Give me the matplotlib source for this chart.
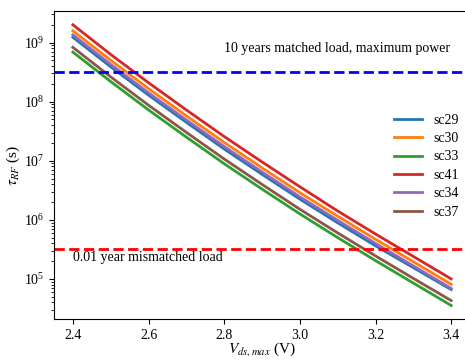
import matplotlib
matplotlib.use("Agg")
import matplotlib.pyplot as plt

plt.rcParams["font.family"] = ["Liberation Serif", "DejaVu Serif"]
plt.rcParams["mathtext.fontset"] = "stix"

# Vds,max (V)
vds = [2.4, 2.5, 2.6, 2.7, 2.8, 2.9, 3.0, 3.1, 3.2, 3.3, 3.4]

# tau_RF (s) per device
sc29 = [1.23e9, 3.89e8, 1.29e8, 4.47e7, 1.58e7, 5.89e6, 2.24e6, 8.9e5, 3.63e5, 1.55e5, 6.6e4]
sc30 = [1.58e9, 5.01e8, 1.66e8, 5.75e7, 2.04e7, 7.59e6, 2.88e6, 1.15e6, 4.68e5, 1.95e5, 8.1e4]
sc33 = [6.9e8, 2.19e8, 7.24e7, 2.51e7, 8.9e6, 3.31e6, 1.26e6, 5.0e5, 2.04e5, 8.5e4, 3.55e4]
sc41 = [2.0e9, 6.3e8, 2.09e8, 7.24e7, 2.57e7, 9.55e6, 3.63e6, 1.41e6, 5.75e5, 2.40e5, 1.0e5]
sc34 = [1.35e9, 4.27e8, 1.41e8, 4.9e7, 1.74e7, 6.46e6, 2.45e6, 9.8e5, 3.98e5, 1.66e5, 6.9e4]
sc37 = [8.3e8, 2.63e8, 8.7e7, 3.02e7, 1.07e7, 3.98e6, 1.51e6, 6.0e5, 2.45e5, 1.02e5, 4.3e4]

series = {"sc29": sc29, "sc30": sc30, "sc33": sc33, "sc41": sc41, "sc34": sc34, "sc37": sc37}

ten_years = 10 * 365 * 24 * 3600      # s
one_hundredth_year = 0.01 * 365 * 24 * 3600

fig = plt.figure(figsize=(4.65, 3.6), dpi=100)
ax = fig.add_axes([0.116, 0.114, 0.895, 0.855])

for name, vals in series.items():
    ax.plot(vds, vals, lw=2, label=name)

ax.axhline(ten_years, color="b", ls="--", lw=2)
ax.axhline(one_hundredth_year, color="r", ls="--", lw=2)

ax.text(2.8, 7.8e8, "10 years matched load, maximum power", fontsize=10, va="center")
ax.text(2.4, 2.3e5, "0.01 year mismatched load", fontsize=10, va="center")

ax.set_yscale("log")
ax.set_xlim(2.35, 3.45)
ax.set_ylim(2.1e4, 3.4e9)
ax.set_xticks([2.4, 2.6, 2.8, 3.0, 3.2, 3.4])
ax.tick_params(labelsize=10)

ax.set_xlabel(r"$V_{ds,max}$ (V)", fontsize=11, labelpad=-1)
ax.set_ylabel(r"$\tau_{RF}$ (s)", fontsize=11, labelpad=1)

ax.legend(frameon=False, fontsize=10, loc="upper left",
          bbox_to_anchor=(0.836, 0.70), bbox_transform=fig.transFigure,
          borderaxespad=0, handlelength=2.0, handletextpad=0.8,
          labelspacing=0.39)

fig.savefig("out.png", dpi=100)
